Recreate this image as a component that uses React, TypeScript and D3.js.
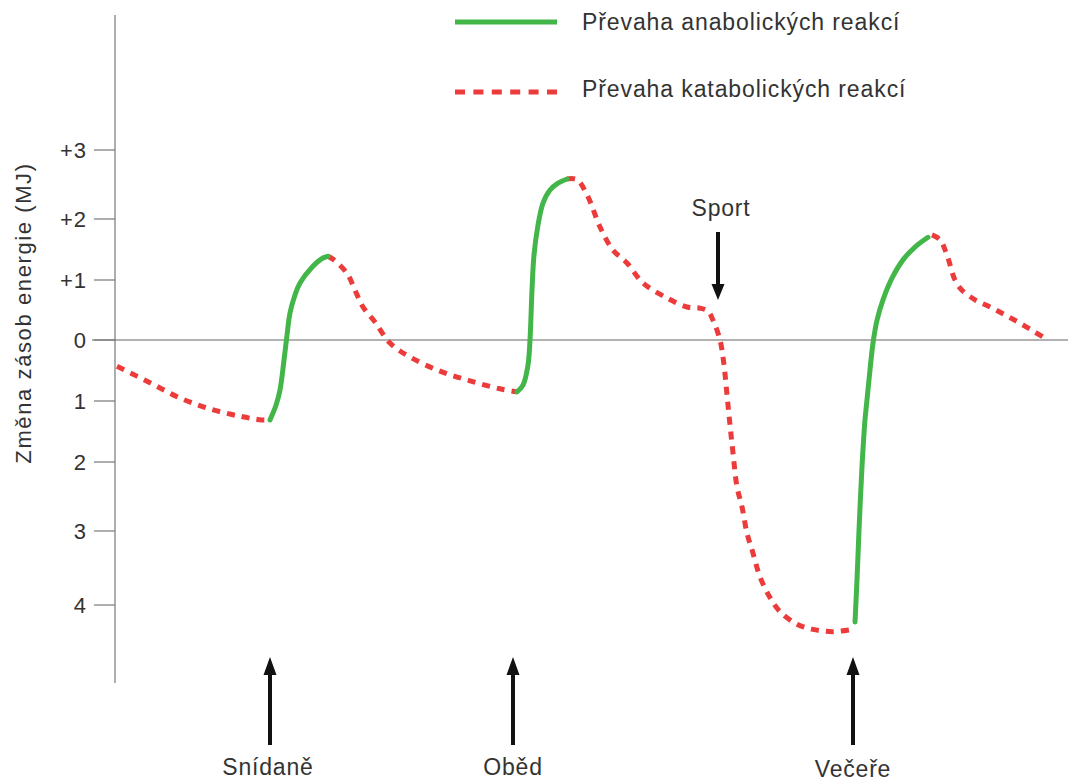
import React from "react";
import * as d3 from "d3";

// y tick values (MJ) and their labels
const yTickValues = [3, 2, 1, 0, -1, -2, -3, -4];
const yTickLabels = ["+3", "+2", "+1", "0", "1", "2", "3", "4"];
// pixel anchors of the (slightly non-uniform) original y axis
const yTickPixels = [150, 219, 280, 340, 401, 462, 531, 605];

// time units (arbitrary, 0..95.3)
const catabolic1: [number, number][] = [
  [0.2, -0.43], [3.5, -0.7], [6.5, -0.95], [9.5, -1.13], [12.5, -1.25], [14.7, -1.31], [15.5, -1.31],
];
const anabolic1: [number, number][] = [
  [15.5, -1.31], [16.1, -1.07], [16.5, -0.82], [16.9, -0.33], [17.2, 0.08], [17.5, 0.45], [18.0, 0.75],
  [18.5, 0.95], [19.7, 1.21], [20.8, 1.36], [21.3, 1.39],
];
const catabolic2: [number, number][] = [
  [21.3, 1.39], [21.8, 1.34], [23.2, 1.11], [24.0, 0.83], [24.8, 0.55], [26.0, 0.3], [27.5, -0.05],
  [29.5, -0.28], [32.5, -0.51], [35.5, -0.67], [38.5, -0.8], [40.2, -0.85],
];
const anabolic2: [number, number][] = [
  [40.2, -0.85], [40.8, -0.74], [41.3, -0.41], [41.5, 0], [41.7, 0.83], [41.9, 1.41], [42.3, 1.9],
  [42.8, 2.23], [43.5, 2.42], [44.3, 2.52], [45.2, 2.58],
];
const catabolic3: [number, number][] = [
  [45.2, 2.58], [46.2, 2.57], [47.3, 2.32], [48.5, 1.87], [49.8, 1.49], [51.2, 1.28], [52.8, 0.95],
  [55.2, 0.7], [57.2, 0.55], [58.5, 0.53], [59.3, 0.48], [59.8, 0.33], [60.5, 0], [60.9, -0.41],
  [61.2, -0.9], [61.5, -1.39], [61.8, -1.85], [62.2, -2.36], [62.7, -2.65], [63.2, -3.03],
  [63.8, -3.3], [64.5, -3.62], [65.5, -3.9], [66.5, -4.09], [68.2, -4.26], [69.8, -4.33],
  [71.8, -4.36], [73.7, -4.33],
];
const anabolic3: [number, number][] = [
  [74.0, -4.23], [74.2, -3.66], [74.4, -2.99], [74.7, -2.07], [75.0, -1.31], [75.2, -0.98],
  [75.5, -0.49], [75.8, -0.05], [76.2, 0.33], [76.8, 0.67], [77.7, 1.03], [78.8, 1.33],
  [80.0, 1.54], [81.3, 1.7],
];
const catabolic4: [number, number][] = [
  [81.7, 1.74], [82.5, 1.66], [83.2, 1.41], [84.0, 1.0], [84.7, 0.83], [86.0, 0.67], [87.5, 0.55],
  [89.0, 0.42], [90.5, 0.28], [92.0, 0.13], [93.0, 0.03],
];

const anabolicSegments = [anabolic1, anabolic2, anabolic3];
const catabolicSegments = [catabolic1, catabolic2, catabolic3, catabolic4];

// meal arrows (time units) and labels
const mealTimes = [15.5, 39.8, 73.8];
const mealLabels = ["Snídaně", "Oběd", "Večeře"];
const sportTime = 60.3;
const sportLabel = "Sport";

const legendLabels = ["Převaha anabolických reakcí", "Převaha katabolických reakcí"];
const yTitle = "Změna zásob energie (MJ)";

const GREEN = "#43b649";
const RED = "#ec3b3b";
const TEXT = "#333";
const FONT = "'Liberation Sans', Arial, sans-serif";

export default function App() {
  const W = 1068;
  const H = 783;
  const x = d3.scaleLinear().domain([0, 95.3]).range([115, 1068]);
  const y = d3.scaleLinear().domain(yTickValues).range(yTickPixels);
  const line = d3
    .line<[number, number]>()
    .x((d) => x(d[0]))
    .y((d) => y(d[1]))
    .curve(d3.curveCatmullRom.alpha(0.5));

  const upArrow = (cx: number, tip: number, base: number) =>
    `M${cx - 2},${base} L${cx - 2},${tip + 18} L${cx - 6.5},${tip + 18} L${cx},${tip} L${cx + 6.5},${tip + 18} L${cx + 2},${tip + 18} L${cx + 2},${base} Z`;
  const downArrow = (cx: number, tip: number, base: number) =>
    `M${cx - 2},${base} L${cx - 2},${tip - 16} L${cx - 6.5},${tip - 16} L${cx},${tip} L${cx + 6.5},${tip - 16} L${cx + 2},${tip - 16} L${cx + 2},${base} Z`;

  const mealBaselines = [775, 775, 777];
  const mealDx = [-2, 0, 0];

  return (
    <svg
      width={W}
      height={H}
      style={{ position: "absolute", left: 0, top: 0, background: "#fff" }}
      fontFamily={FONT}
    >
      {/* axes */}
      <line x1={115} x2={115} y1={15} y2={683} stroke="#777" strokeWidth={1.2} />
      <line x1={92} x2={1068} y1={y(0)} y2={y(0)} stroke="#666" strokeWidth={1.2} />
      {yTickValues.map((v, i) => (
        <g key={i}>
          <line x1={94} x2={115} y1={y(v)} y2={y(v)} stroke="#777" strokeWidth={1.2} />
          <text
            x={87}
            y={y(v)}
            dy="0.36em"
            textAnchor="end"
            fontSize={22}
            letterSpacing={1}
            fill={TEXT}
          >
            {yTickLabels[i]}
          </text>
        </g>
      ))}
      <text
        transform={`translate(31,${313}) rotate(-90)`}
        textAnchor="middle"
        fontSize={22}
        letterSpacing={1.6}
        fill={TEXT}
      >
        {yTitle}
      </text>

      {/* curves */}
      {catabolicSegments.map((seg, i) => (
        <path
          key={"c" + i}
          d={line(seg) || ""}
          fill="none"
          stroke={RED}
          strokeWidth={5}
          strokeDasharray="8,7"
        />
      ))}
      {anabolicSegments.map((seg, i) => (
        <path
          key={"a" + i}
          d={line(seg) || ""}
          fill="none"
          stroke={GREEN}
          strokeWidth={5}
          strokeLinecap="round"
        />
      ))}

      {/* meal arrows */}
      {mealTimes.map((t, i) => (
        <g key={"m" + i}>
          <path d={upArrow(x(t), 657, 745)} fill="#111" />
          <text
            x={x(t) + mealDx[i]}
            y={mealBaselines[i]}
            textAnchor="middle"
            fontSize={23}
            letterSpacing={0.8}
            fill={TEXT}
          >
            {mealLabels[i]}
          </text>
        </g>
      ))}

      {/* sport */}
      <path d={downArrow(x(sportTime), 300, 232)} fill="#111" />
      <text
        x={x(sportTime) + 3}
        y={216}
        textAnchor="middle"
        fontSize={23}
        letterSpacing={0.8}
        fill={TEXT}
      >
        {sportLabel}
      </text>

      {/* legend */}
      <line x1={455} x2={557} y1={22} y2={22} stroke={GREEN} strokeWidth={5} />
      <text x={582} y={30} fontSize={23} letterSpacing={0.9} fill={TEXT}>
        {legendLabels[0]}
      </text>
      <line
        x1={455}
        x2={557}
        y1={92}
        y2={92}
        stroke={RED}
        strokeWidth={5}
        strokeDasharray="10,8.4"
      />
      <text x={582} y={97} fontSize={23} letterSpacing={0.9} fill={TEXT}>
        {legendLabels[1]}
      </text>
    </svg>
  );
}
